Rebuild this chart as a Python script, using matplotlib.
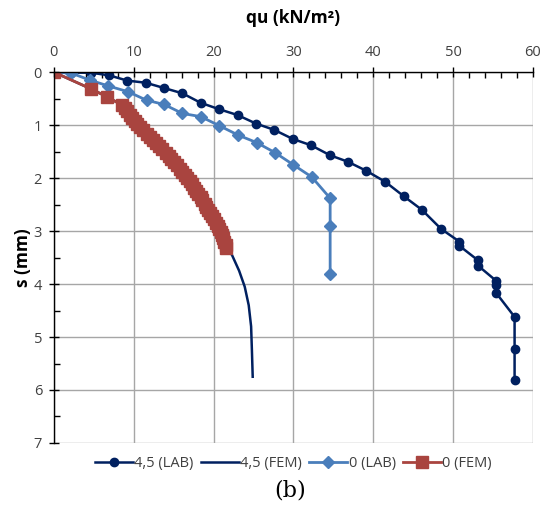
import matplotlib.pyplot as plt
from matplotlib.ticker import MultipleLocator

plt.rcParams['font.family'] = ['Open Sans', 'DejaVu Sans']

# 4,5 (LAB)
lab45_q = [0, 2.2, 4.6, 6.9, 9.2, 11.5, 13.8, 16.1, 18.4, 20.7, 23.0, 25.3, 27.6,
           29.9, 32.2, 34.6, 36.8, 39.1, 41.5, 43.8, 46.1, 48.5, 50.8, 50.8, 53.1,
           53.1, 55.4, 55.4, 55.4, 57.7, 57.7, 57.7]
lab45_s = [0, 0.01, 0.01, 0.06, 0.16, 0.20, 0.30, 0.40, 0.58, 0.70, 0.81, 0.97, 1.09,
           1.26, 1.38, 1.57, 1.69, 1.86, 2.07, 2.34, 2.60, 2.96, 3.20, 3.28, 3.55,
           3.65, 3.94, 4.02, 4.17, 4.62, 5.23, 5.82]

# 0 (LAB)
lab0_q = [0, 2.2, 4.5, 6.8, 9.3, 11.6, 13.8, 16.1, 18.4, 20.7, 23.1, 25.4, 27.7,
          30.0, 32.3, 34.6, 34.6, 34.6]
lab0_s = [0, 0.02, 0.15, 0.26, 0.37, 0.53, 0.61, 0.78, 0.84, 1.01, 1.19, 1.33, 1.52,
          1.75, 1.98, 2.38, 2.91, 3.81]

# 0 (FEM)
fem0_q = [0, 4.7, 6.7, 8.5, 8.9, 9.2, 9.5, 9.8, 10.1, 10.4, 10.8, 11.2, 11.6, 12.0,
          12.4, 12.8, 13.2, 13.6, 14.0, 14.4, 14.7, 15.1, 15.4, 15.8, 16.1, 16.4,
          16.7, 17.0, 17.3, 17.6, 17.8, 18.1, 18.4, 18.6, 18.9, 19.1, 19.3, 19.6,
          19.8, 20.0, 20.3, 20.5, 20.7, 20.9, 21.0, 21.2, 21.3, 21.5, 21.6]
fem0_s = [0, 0.32, 0.47, 0.62, 0.68, 0.74, 0.80, 0.86, 0.92, 0.98, 1.04, 1.10, 1.16,
          1.22, 1.28, 1.34, 1.40, 1.46, 1.52, 1.58, 1.64, 1.70, 1.76, 1.82, 1.88,
          1.94, 2.00, 2.06, 2.12, 2.18, 2.24, 2.30, 2.36, 2.42, 2.48, 2.54, 2.60,
          2.66, 2.72, 2.78, 2.84, 2.90, 2.96, 3.02, 3.08, 3.14, 3.20, 3.26, 3.32]

# 4,5 (FEM) - runs under the 0 (FEM) squares, then continues
fem45_q = fem0_q + [22.3, 23.2, 23.9, 24.4, 24.7, 24.8, 24.9]
fem45_s = fem0_s + [3.45, 3.75, 4.05, 4.40, 4.80, 5.25, 5.75]

navy = '#002060'
lblue = '#4A7EBB'
red = '#A9443F'

fig = plt.figure(figsize=(5.5, 5.08), dpi=100)
ax = fig.add_axes([0.098, 0.128, 0.871, 0.730])

ax.plot(lab45_q, lab45_s, color=navy, lw=1.8, marker='o', ms=6, label='4,5 (LAB)')
ax.plot(fem45_q, fem45_s, color=navy, lw=1.8, label='4,5 (FEM)')
ax.plot(lab0_q, lab0_s, color=lblue, lw=2.0, marker='D', ms=6.5, label='0 (LAB)')
ax.plot(fem0_q, fem0_s, color=red, lw=2.0, marker='s', ms=8.5, label='0 (FEM)')

ax.set_xlim(0, 60)
ax.set_ylim(7, 0)
ax.xaxis.tick_top()
ax.xaxis.set_label_position('top')
ax.xaxis.set_major_locator(MultipleLocator(10))
ax.xaxis.set_minor_locator(MultipleLocator(2))
ax.yaxis.set_major_locator(MultipleLocator(1))
ax.yaxis.set_minor_locator(MultipleLocator(0.5))
ax.tick_params(which='major', direction='inout', length=7, width=1, labelsize=10.5,
               labelcolor='#404040', pad=5)
ax.tick_params(which='minor', direction='in', length=4, width=1)
ax.grid(True, which='major', color='#A6A6A6', lw=1)

for side in ['right', 'bottom']:
    ax.spines[side].set_visible(False)
for side in ['top', 'left']:
    ax.spines[side].set_color('black')
    ax.spines[side].set_linewidth(1)

ax.set_xlabel('qu (kN/m²)', fontsize=12.5, fontweight='bold', labelpad=16)
ax.set_ylabel('s (mm)', fontsize=12.5, fontweight='bold', labelpad=1)

ax.legend(loc='upper center', bbox_to_anchor=(0.5, 0.0), ncol=4, frameon=False,
          fontsize=10.5, handlelength=2.6, handletextpad=0.1, columnspacing=0.5,
          labelcolor='#404040')

fig.text(0.528, 0.022, '(b)', fontsize=16, family='DejaVu Serif', ha='center')

fig.savefig('out.png', dpi=100)
